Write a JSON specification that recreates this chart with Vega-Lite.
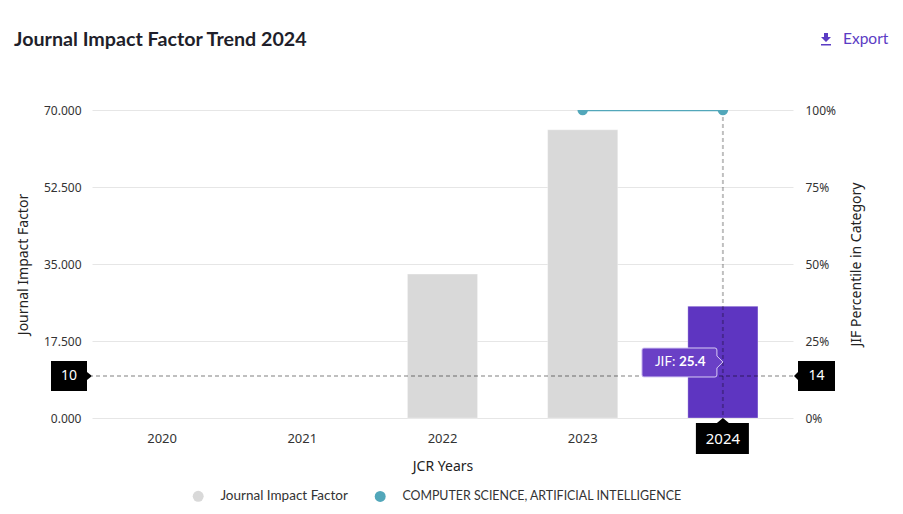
{
  "$schema": "https://vega.github.io/schema/vega-lite/v6.json",
  "width": 701,
  "height": 308,
  "autosize": {"type": "none"},
  "padding": {"left": 92, "top": 110, "right": 110, "bottom": 96},
  "background": "white",
  "title": {
    "text": "Journal Impact Factor Trend 2024",
    "anchor": "start",
    "frame": "group",
    "dx": -78,
    "offset": -34,
    "baseline": "alphabetic",
    "font": "Lato",
    "fontSize": 19.7,
    "fontWeight": "bold",
    "color": "#1f1f2b"
  },
  "config": {
    "view": {"stroke": null},
    "axis": {
      "domain": false,
      "ticks": false,
      "labelFont": "Noto Sans",
      "labelFontSize": 12,
      "labelColor": "#333333",
      "titleFont": "Noto Sans",
      "titleFontSize": 14,
      "titleFontWeight": "normal",
      "titleColor": "#222222",
      "gridColor": "#e6e6e6"
    },
    "legend": {
      "orient": "none",
      "legendX": 100,
      "legendY": 380,
      "direction": "horizontal",
      "symbolType": "circle",
      "symbolSize": 120,
      "symbolStrokeWidth": 0,
      "symbolOpacity": 1,
      "labelFont": "Lato",
      "labelColor": "#333333",
      "labelLimit": 0,
      "labelOffset": 16,
      "columnPadding": 26,
      "title": null
    }
  },
  "datasets": {
    "jif": [
      {"year": "2020", "jif": null, "series": "Journal Impact Factor"},
      {"year": "2021", "jif": null, "series": "Journal Impact Factor"},
      {"year": "2022", "jif": 32.7, "series": "Journal Impact Factor"},
      {"year": "2023", "jif": 65.5, "series": "Journal Impact Factor"},
      {"year": "2024", "jif": 25.4, "series": "Journal Impact Factor"}
    ],
    "pct": [
      {"year": "2023", "pct": 1, "cat": "COMPUTER SCIENCE, ARTIFICIAL INTELLIGENCE"},
      {"year": "2024", "pct": 1, "cat": "COMPUTER SCIENCE, ARTIFICIAL INTELLIGENCE"}
    ],
    "hover": [
      {"year": "2024", "y": 9.55, "left": "10", "right": "14", "tipY": 12.73, "tipLabel": "JIF:", "tip": "25.4"}
    ],
    "ui": [
      {"label": "Export"}
    ]
  },
  "layer": [
    {
      "data": {"name": "jif"},
      "layer": [
        {
          "mark": {"type": "bar", "stroke": "#ffffff", "strokeWidth": 1, "strokeOpacity": 0.3},
          "encoding": {
            "x": {
              "field": "year",
              "type": "ordinal",
              "title": "JCR Years",
              "scale": {"domain": ["2020", "2021", "2022", "2023", "2024"], "paddingInner": 0.5, "paddingOuter": 0.25},
              "axis": {
                "labelAngle": 0,
                "labelPadding": 14,
                "labelFontSize": 13,
                "titlePadding": 14,
                "grid": false,
                "labelExpr": "datum.label === '2024' ? '' : datum.label"
              }
            },
            "y": {
              "field": "jif",
              "type": "quantitative",
              "title": "Journal Impact Factor",
              "scale": {"domain": [0, 70], "nice": false, "zero": true},
              "axis": {"orient": "left", "values": [0, 17.5, 35, 52.5, 70], "format": ".3f", "labelPadding": 11, "titlePadding": 13, "grid": true}
            },
            "color": {
              "field": "series",
              "type": "nominal",
              "scale": {
                "domain": ["Journal Impact Factor", "COMPUTER SCIENCE, ARTIFICIAL INTELLIGENCE"],
                "range": ["#d9d9d9", "#52a7ba"]
              },
              "legend": {
                "symbolType": "circle",
                "labelFontSize": {"expr": "datum.label === 'Journal Impact Factor' ? 13.5 : 12.4"}
              },
              "condition": {"test": "datum.year === '2024'", "value": "#5e35c1"}
            }
          }
        },
        {
          "data": {"name": "hover"},
          "mark": {"type": "rule", "color": "#000000", "opacity": 0.25, "strokeWidth": 2, "strokeDash": [4, 3]},
          "encoding": {
            "y": {"field": "y", "type": "quantitative", "title": "Journal Impact Factor"}
          }
        },
        {
          "data": {"name": "hover"},
          "mark": {"type": "rule", "color": "#000000", "opacity": 0.25, "strokeWidth": 2, "strokeDash": [4, 3]},
          "encoding": {
            "x": {"field": "year", "type": "ordinal", "title": "JCR Years"}
          }
        },
        {
          "data": {"name": "hover"},
          "mark": {"type": "point", "shape": "M-41,-15 L-5,-15 L-5,-4 L0,0 L-5,4 L-5,15 L-41,15 Z", "size": 4, "filled": true, "color": "#000000", "opacity": 1, "strokeWidth": 0},
          "encoding": {
            "x": {"value": 0},
            "y": {"field": "y", "type": "quantitative", "title": "Journal Impact Factor"}
          }
        },
        {
          "data": {"name": "hover"},
          "mark": {"type": "text", "dx": -23, "align": "center", "baseline": "middle", "font": "Noto Sans", "fontSize": 14, "color": "#ffffff"},
          "encoding": {
            "x": {"value": 0},
            "y": {"field": "y", "type": "quantitative", "title": "Journal Impact Factor"},
            "text": {"field": "left"}
          }
        },
        {
          "data": {"name": "hover"},
          "mark": {"type": "point", "shape": "M1,0 L5,-4 L5,-15 L42,-15 L42,15 L5,15 L5,4 Z", "size": 4, "filled": true, "color": "#000000", "opacity": 1, "strokeWidth": 0},
          "encoding": {
            "x": {"value": "width"},
            "y": {"field": "y", "type": "quantitative", "title": "Journal Impact Factor"}
          }
        },
        {
          "data": {"name": "hover"},
          "mark": {"type": "text", "dx": 23.5, "align": "center", "baseline": "middle", "font": "Noto Sans", "fontSize": 14, "color": "#ffffff"},
          "encoding": {
            "x": {"value": "width"},
            "y": {"field": "y", "type": "quantitative", "title": "Journal Impact Factor"},
            "text": {"field": "right"}
          }
        },
        {
          "data": {"name": "hover"},
          "mark": {"type": "point", "shape": "M0,0 L6,5 L26,5 L26,36 L-27,36 L-27,5 L-6,5 Z", "size": 4, "filled": true, "color": "#000000", "opacity": 1, "strokeWidth": 0},
          "encoding": {
            "x": {"field": "year", "type": "ordinal", "title": "JCR Years"},
            "y": {"value": "height"}
          }
        },
        {
          "data": {"name": "hover"},
          "mark": {"type": "text", "dy": 20.5, "align": "center", "baseline": "middle", "font": "Noto Sans", "fontSize": 15, "color": "#ffffff"},
          "encoding": {
            "x": {"field": "year", "type": "ordinal", "title": "JCR Years"},
            "y": {"value": "height"},
            "text": {"field": "year"}
          }
        },
        {
          "data": {"name": "hover"},
          "mark": {"type": "point", "shape": "M0,0 L-6,-6 L-6,-12 Q-6,-14 -8,-14 L-79,-14 Q-81,-14 -81,-12 L-81,13 Q-81,15 -79,15 L-8,15 Q-6,15 -6,13 L-6,6 Z", "size": 4, "filled": true, "fill": "#6a40c6", "stroke": "#d9ccf5", "strokeWidth": 1, "opacity": 1},
          "encoding": {
            "x": {"field": "year", "type": "ordinal", "title": "JCR Years"},
            "y": {"field": "tipY", "type": "quantitative", "title": "Journal Impact Factor"}
          }
        },
        {
          "data": {"name": "hover"},
          "mark": {"type": "text", "dx": -68, "align": "left", "baseline": "middle", "font": "Lato", "fontSize": 13.5, "color": "#ffffff"},
          "encoding": {
            "x": {"field": "year", "type": "ordinal", "title": "JCR Years"},
            "y": {"field": "tipY", "type": "quantitative", "title": "Journal Impact Factor"},
            "text": {"field": "tipLabel"}
          }
        },
        {
          "data": {"name": "hover"},
          "mark": {"type": "text", "dx": -44, "align": "left", "baseline": "middle", "font": "Lato", "fontSize": 13.5, "fontWeight": "bold", "color": "#ffffff"},
          "encoding": {
            "x": {"field": "year", "type": "ordinal", "title": "JCR Years"},
            "y": {"field": "tipY", "type": "quantitative", "title": "Journal Impact Factor"},
            "text": {"field": "tip"}
          }
        },
        {
          "data": {"name": "ui"},
          "mark": {"type": "text", "dx": 50, "dy": -71, "align": "left", "baseline": "middle", "font": "Lato", "fontSize": 15.5, "color": "#5b3cc4"},
          "encoding": {
            "x": {"value": "width"},
            "y": {"value": 0},
            "text": {"field": "label"}
          }
        },
        {
          "data": {"name": "ui"},
          "mark": {"type": "point", "shape": "M31,-77 L35,-77 L35,-73 L38,-73 L33,-68 L28,-73 L31,-73 Z M28,-66 L38,-66 L38,-64.5 L28,-64.5 Z", "size": 4, "filled": true, "color": "#5b3cc4", "opacity": 1, "strokeWidth": 0},
          "encoding": {
            "x": {"value": "width"},
            "y": {"value": 0}
          }
        }
      ]
    },
    {
      "data": {"name": "pct"},
      "layer": [
        {
          "mark": {"type": "line", "strokeWidth": 2.5, "clip": true},
          "encoding": {
            "x": {"field": "year", "type": "ordinal", "title": "JCR Years"},
            "y": {
              "field": "pct",
              "type": "quantitative",
              "title": "JIF Percentile in Category",
              "scale": {"domain": [0, 1], "nice": false},
              "axis": {"orient": "right", "values": [0, 0.25, 0.5, 0.75, 1], "format": ".0%", "labelPadding": 12, "titlePadding": 28, "titleAngle": 270, "grid": false}
            },
            "color": {"field": "cat", "type": "nominal"}
          }
        },
        {
          "mark": {"type": "point", "filled": true, "size": 110, "opacity": 1, "clip": true},
          "encoding": {
            "x": {"field": "year", "type": "ordinal", "title": "JCR Years"},
            "y": {"field": "pct", "type": "quantitative", "title": "JIF Percentile in Category"},
            "color": {"field": "cat", "type": "nominal"}
          }
        }
      ]
    }
  ],
  "resolve": {"scale": {"y": "independent"}}
}
